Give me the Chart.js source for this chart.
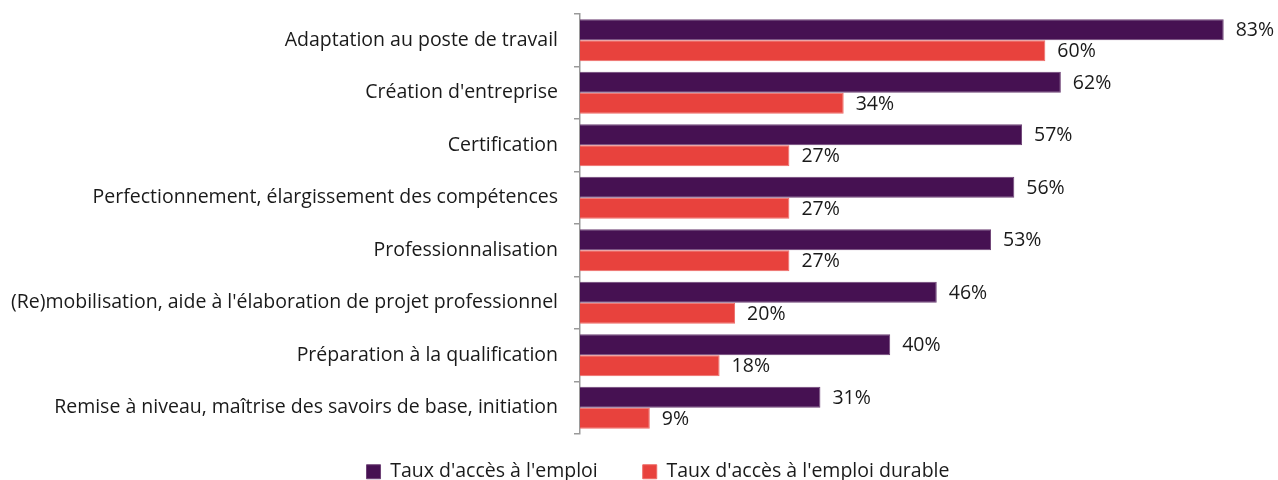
<!DOCTYPE html>
<html>
<head>
<meta charset="utf-8">
<script src="https://cdn.jsdelivr.net/npm/chart.js@4"></script>
<style>
  html, body { margin: 0; padding: 0; background: #fff; }
  #wrap { width: 1278px; height: 480px; }
</style>
</head>
<body>
<div id="wrap"><canvas id="chart"></canvas></div>
<script>
const categories = [
  "Adaptation au poste de travail",
  "Création d'entreprise",
  "Certification",
  "Perfectionnement, élargissement des compétences",
  "Professionnalisation",
  "(Re)mobilisation, aide à l'élaboration de projet professionnel",
  "Préparation à la qualification",
  "Remise à niveau, maîtrise des savoirs de base, initiation"
];
const tauxEmploi = [83, 62, 57, 56, 53, 46, 40, 31];
const tauxEmploiDurable = [60, 34, 27, 27, 27, 20, 18, 9];

const FONT = "'Open Sans'";
const SIZE = 19.5;

// étiquettes de valeur au bout des barres
const valueLabels = {
  id: 'valueLabels',
  afterDatasetsDraw(chart) {
    const ctx = chart.ctx;
    ctx.save();
    ctx.font = `${SIZE}px ${FONT}`;
    ctx.fillStyle = '#1a1a1a';
    ctx.textAlign = 'left';
    ctx.textBaseline = 'middle';
    chart.data.datasets.forEach((ds, i) => {
      chart.getDatasetMeta(i).data.forEach((bar, j) => {
        ctx.fillText(ds.data[j] + '%', bar.x + 12, bar.y + 1);
      });
    });
    ctx.restore();
  }
};

// place la légende comme dans l'original (plus bas, un peu à droite)
const legendPlacement = {
  id: 'legendPlacement',
  afterLayout(chart) {
    const lg = chart.legend;
    lg.left += 38;
    lg.top -= 17;
  }
};

new Chart(document.getElementById('chart'), {
  type: 'bar',
  data: {
    labels: categories,
    datasets: [
      {
        label: "Taux d'accès à l'emploi",
        data: tauxEmploi,
        backgroundColor: '#461152',
        borderColor: '#6e4276',
        borderWidth: 1,
        categoryPercentage: 0.8,
        barPercentage: 1
      },
      {
        label: "Taux d'accès à l'emploi durable",
        data: tauxEmploiDurable,
        backgroundColor: '#E8423D',
        borderColor: '#ee6a66',
        borderWidth: 1,
        categoryPercentage: 0.8,
        barPercentage: 1
      }
    ]
  },
  options: {
    indexAxis: 'y',
    responsive: true,
    maintainAspectRatio: false,
    animation: false,
    layout: { padding: { top: 14, right: 0, left: 0, bottom: 0 } },
    scales: {
      x: {
        display: false,
        min: 0,
        max: 90
      },
      y: {
        afterFit: s => { s.width = 580; s.paddingTop = 0; s.paddingBottom = 0; },
        border: { display: true, color: '#9a9a9a', width: 1.5 },
        grid: { drawOnChartArea: false, drawTicks: true, tickLength: 6, color: '#9a9a9a', lineWidth: 1.5 },
        ticks: { color: '#1a1a1a', padding: 16, font: { family: FONT, size: SIZE } }
      }
    },
    plugins: {
      legend: {
        position: 'bottom',
        maxHeight: 46,
        labels: {
          color: '#1a1a1a',
          boxWidth: 14,
          boxHeight: 14,
          padding: 45,
          font: { family: FONT, size: SIZE }
        }
      },
      tooltip: { enabled: false }
    }
  },
  plugins: [valueLabels, legendPlacement]
});
</script>
</body>
</html>
